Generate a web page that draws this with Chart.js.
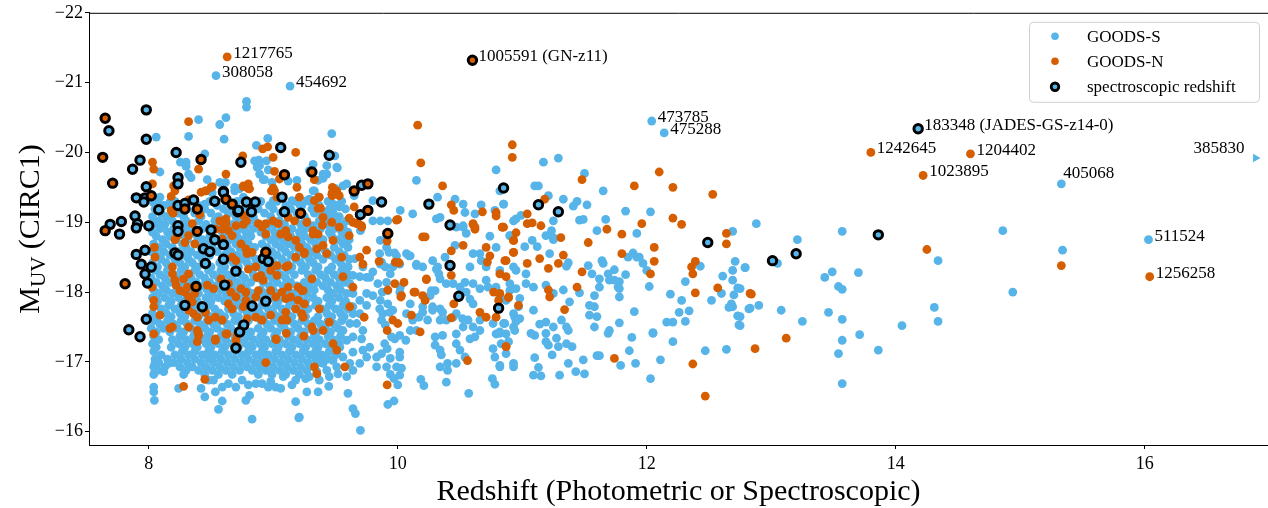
<!DOCTYPE html>
<html>
<head>
<meta charset="utf-8">
<script src="https://cdn.jsdelivr.net/npm/chart.js@4.4.1/dist/chart.umd.min.js"></script>
<style>
  html, body { margin: 0; padding: 0; background: #fff; }
  #wrap { width: 1268px; height: 508px; }
</style>
</head>
<body>
<div id="wrap"><canvas id="chart" width="1268" height="508"></canvas></div>
<script>
// axis setup
const xTicks = [8, 10, 12, 14, 16];
const yTicks = [-22, -21, -20, -19, -18, -17, -16];
const xRange = [7.52, 16.99];
const yRange = [-22, -15.81];
const xTitle = "Redshift (Photometric or Spectroscopic)";
const yTitle = ["M", "UV", " (CIRC1)"];
const legendItems = ["GOODS-S", "GOODS-N", "spectroscopic redshift"];

// GOODS-S, dense part of the cloud read row by row: [M_UV, [redshifts]]
const goodsSRows = [
  [-19.30, [8.07, 8.21, 8.33, 8.49, 8.62, 8.71, 8.90, 9.03, 9.17, 9.29, 9.44, 9.55]],
  [-19.24, [8.12, 8.26, 8.40, 8.55, 8.68, 8.83, 8.97, 9.10, 9.23, 9.37, 9.50]],
  [-19.19, [8.05, 8.18, 8.31, 8.45, 8.60, 8.76, 8.88, 9.00, 9.14, 9.31, 9.45, 9.58]],
  [-19.13, [8.10, 8.23, 8.37, 8.50, 8.64, 8.79, 8.93, 9.06, 9.19, 9.33, 9.48]],
  [-19.08, [8.03, 8.14, 8.28, 8.42, 8.56, 8.70, 8.84, 8.98, 9.12, 9.25, 9.39, 9.53]],
  [-19.02, [8.08, 8.19, 8.30, 8.40, 8.53, 8.62, 8.73, 8.85, 9.05, 9.18, 9.27, 9.37, 9.50, 9.59]],
  [-18.97, [8.04, 8.13, 8.25, 8.35, 8.46, 8.55, 8.67, 8.79, 8.89, 9.00, 9.09, 9.22, 9.43, 9.54]],
  [-18.91, [8.09, 8.20, 8.30, 8.43, 8.52, 8.62, 8.74, 8.84, 8.95, 9.07, 9.15, 9.26, 9.38, 9.49]],
  [-18.86, [8.03, 8.15, 8.24, 8.36, 8.59, 8.68, 8.78, 8.90, 9.01, 9.12, 9.21, 9.33, 9.45, 9.55]],
  [-18.80, [8.06, 8.17, 8.29, 8.39, 8.49, 8.61, 8.71, 8.82, 8.94, 9.04, 9.14, 9.25, 9.36, 9.47, 9.58]],
  [-18.75, [8.11, 8.22, 8.31, 8.43, 8.55, 8.65, 8.76, 8.98, 9.08, 9.19, 9.30, 9.40, 9.52, 9.61]],
  [-18.69, [8.04, 8.14, 8.27, 8.37, 8.47, 8.58, 8.70, 8.80, 8.91, 9.02, 9.12, 9.23, 9.34, 9.56]],
  [-18.64, [8.08, 8.19, 8.30, 8.42, 8.51, 8.63, 8.73, 8.85, 8.95, 9.06, 9.17, 9.27, 9.39, 9.49, 9.60]],
  [-18.58, [8.02, 8.12, 8.24, 8.34, 8.45, 8.55, 8.66, 8.77, 8.99, 9.10, 9.21, 9.31, 9.42, 9.53]],
  [-18.53, [8.06, 8.17, 8.28, 8.39, 8.49, 8.61, 8.71, 8.81, 8.93, 9.03, 9.14, 9.25, 9.35, 9.46, 9.57]],
  [-18.47, [8.10, 8.21, 8.32, 8.43, 8.64, 8.75, 8.86, 8.97, 9.07, 9.18, 9.29, 9.40, 9.50, 9.61]],
  [-18.42, [8.03, 8.14, 8.25, 8.35, 8.46, 8.57, 8.68, 8.79, 8.89, 9.00, 9.11, 9.22, 9.32, 9.54]],
  [-18.36, [8.07, 8.18, 8.29, 8.39, 8.50, 8.61, 8.72, 8.83, 8.93, 9.04, 9.15, 9.26, 9.36, 9.47, 9.58]],
  [-18.31, [8.05, 8.15, 8.26, 8.37, 8.48, 8.58, 8.69, 8.91, 9.01, 9.12, 9.23, 9.34, 9.44, 9.55]],
  [-18.25, [8.09, 8.20, 8.31, 8.41, 8.52, 8.63, 8.74, 8.84, 8.95, 9.06, 9.17, 9.28, 9.38, 9.49, 9.60]],
  [-18.20, [8.02, 8.13, 8.24, 8.34, 8.45, 8.56, 8.67, 8.77, 8.88, 8.99, 9.10, 9.31, 9.42, 9.53]],
  [-18.14, [8.06, 8.17, 8.28, 8.38, 8.49, 8.60, 8.71, 8.82, 8.92, 9.03, 9.14, 9.25, 9.35, 9.46, 9.57]],
  [-18.09, [8.11, 8.22, 8.33, 8.43, 8.54, 8.65, 8.76, 8.97, 9.08, 9.19, 9.29, 9.40, 9.51]],
  [-18.03, [8.04, 8.14, 8.25, 8.36, 8.47, 8.57, 8.68, 8.79, 8.90, 9.00, 9.11, 9.22, 9.33, 9.44, 9.54]],
  [-17.98, [8.08, 8.19, 8.30, 8.40, 8.51, 8.62, 8.73, 8.83, 8.94, 9.05, 9.16, 9.27, 9.48, 9.59]],
  [-17.92, [8.03, 8.13, 8.24, 8.35, 8.46, 8.56, 8.67, 8.78, 8.89, 8.99, 9.10, 9.21, 9.32, 9.43, 9.53]],
  [-17.87, [8.07, 8.18, 8.28, 8.39, 8.50, 8.61, 8.72, 8.82, 8.93, 9.04, 9.15, 9.26, 9.36, 9.47, 9.58]],
  [-17.81, [8.05, 8.16, 8.26, 8.37, 8.48, 8.70, 8.80, 8.91, 9.02, 9.13, 9.24, 9.34, 9.45, 9.56]],
  [-17.76, [8.10, 8.21, 8.31, 8.42, 8.53, 8.64, 8.75, 8.85, 8.96, 9.07, 9.18, 9.28, 9.39, 9.50, 9.60]],
  [-17.70, [8.03, 8.14, 8.25, 8.36, 8.46, 8.57, 8.68, 8.79, 8.89, 9.00, 9.11, 9.22, 9.43, 9.54]],
  [-17.65, [8.07, 8.18, 8.29, 8.40, 8.50, 8.61, 8.72, 8.83, 8.93, 9.04, 9.15, 9.26, 9.36, 9.47, 9.57]],
  [-17.59, [8.04, 8.15, 8.26, 8.37, 8.47, 8.58, 8.69, 8.80, 8.90, 9.01, 9.12, 9.23, 9.33, 9.44, 9.55]],
  [-17.54, [8.09, 8.20, 8.31, 8.41, 8.52, 8.63, 8.74, 8.95, 9.06, 9.17, 9.28, 9.38, 9.49]],
  [-17.48, [8.02, 8.12, 8.23, 8.34, 8.45, 8.55, 8.66, 8.77, 8.88, 8.98, 9.09, 9.20, 9.31, 9.42, 9.52]],
  [-17.43, [8.06, 8.17, 8.28, 8.38, 8.49, 8.60, 8.71, 8.82, 8.92, 9.03, 9.14, 9.25, 9.35, 9.46]],
  [-17.37, [8.04, 8.25, 8.36, 8.47, 8.58, 8.69, 8.79, 8.90, 9.01, 9.12, 9.22, 9.33, 9.44, 9.54]],
  [-17.32, [8.08, 8.19, 8.30, 8.41, 8.51, 8.62, 8.73, 8.84, 8.94, 9.05, 9.16, 9.27, 9.37, 9.48]],
  [-17.26, [8.03, 8.24, 8.35, 8.46, 8.56, 8.67, 8.78, 8.89, 8.99, 9.10, 9.21, 9.32, 9.42, 9.53]],
  [-17.21, [8.06, 8.18, 8.29, 8.39, 8.50, 8.61, 8.72, 8.83, 8.93, 9.04, 9.15, 9.26, 9.36, 9.47]],
  [-17.15, [8.04, 8.27, 8.37, 8.48, 8.59, 8.70, 8.80, 8.91, 9.02, 9.13, 9.24, 9.34, 9.45]],
  [-17.10, [8.10, 8.21, 8.32, 8.43, 8.53, 8.64, 8.75, 8.86, 8.96, 9.07, 9.18, 9.29, 9.39, 9.50]],
  [-17.04, [8.05, 8.15, 8.26, 8.37, 8.48, 8.58, 8.69, 8.80, 8.91, 9.01, 9.12, 9.23, 9.34, 9.44]],
  [-16.99, [8.08, 8.20, 8.31, 8.42, 8.52, 8.63, 8.74, 8.85, 8.95, 9.06, 9.17, 9.28, 9.38]],
  [-16.93, [8.04, 8.13, 8.25, 8.35, 8.46, 8.57, 8.68, 8.79, 8.89, 9.00, 9.11, 9.22, 9.33]],
  [-16.88, [8.07, 8.30, 8.40, 8.51, 8.62, 8.73, 8.83, 8.94, 9.05, 9.16, 9.27]],
  [-16.82, [8.04, 8.28, 8.45, 8.56, 8.67, 8.88, 8.99, 9.10, 9.21]]
];

// GOODS-S, scattered points: [redshift, M_UV]
const goodsS = [
  [9.135, -20.95], [8.54, -21.10], [8.785, -20.73], [8.785, -20.65], [8.62, -20.50], [8.57, -20.40], [8.40, -20.47],
  [8.605, -20.19], [8.32, -20.23], [8.06, -20.22], [8.956, -20.20], [8.865, -20.10], [9.47, -20.27], [8.45, -19.98],
  [8.884, -19.89], [8.87, -19.79], [8.92, -19.61], [8.99, -19.57], [8.09, -19.72], [8.254, -19.86], [8.30, -19.86],
  [8.30, -19.80], [8.32, -19.69], [8.34, -19.64], [8.47, -19.61], [8.616, -19.57], [8.69, -19.50], [8.51, -19.42],
  [8.57, -19.57], [8.60, -19.44], [8.69, -19.45], [8.73, -19.48], [8.89, -19.69], [8.93, -19.61], [9.12, -19.59],
  [9.19, -19.60], [9.27, -19.31], [9.36, -19.60], [9.40, -19.63], [9.43, -19.69], [9.51, -19.79], [9.33, -19.45],
  [9.56, -19.52], [9.59, -19.55], [9.32, -19.83], [8.85, -19.88], [8.89, -19.81], [8.945, -19.88], [8.96, -19.75],
  [8.035, -19.29], [8.09, -19.36], [8.17, -19.29], [8.45, -19.26], [8.76, -19.36], [8.89, -19.29], [9.0, -19.31],
  [9.15, -19.31], [9.21, -19.26], [9.48, -19.26], [9.53, -19.22], [9.43, -19.14], [9.65, -19.38], [9.80, -19.31],
  [9.92, -19.02], [10.02, -19.17], [10.12, -19.12], [10.31, -19.05], [10.32, -19.36], [10.15, -19.60],
  [9.44, -19.95], [9.495, -19.95], [9.43, -19.81], [9.515, -19.78], [9.29, -19.74], [9.40, -19.69], [9.40, -19.64],
  [9.50, -19.48], [9.32, -19.45], [9.29, -19.33], [9.33, -19.31], [9.48, -19.13], [9.45, -19.05], [9.32, -18.95],
  [10.79, -19.75], [10.82, -19.45], [10.85, -19.26], [10.34, -19.07], [10.46, -19.33], [10.525, -19.26], [10.54, -19.14],
  [10.62, -19.12], [10.67, -19.25], [10.78, -19.17], [10.93, -19.02], [10.47, -18.93], [10.525, -18.93],
  [9.56, -18.93], [9.60, -18.86], [9.70, -18.88], [9.80, -19.02], [9.86, -19.02], [9.86, -18.74], [9.91, -18.64],
  [9.99, -18.52], [10.07, -18.55], [10.10, -18.52], [10.15, -18.38], [10.20, -18.36], [10.28, -18.45], [10.32, -18.36],
  [9.86, -18.40], [9.90, -18.36], [9.94, -18.26], [9.96, -18.36], [9.775, -18.21], [9.80, -18.29], [9.84, -18.12],
  [9.91, -18.14], [10.02, -18.07], [10.26, -17.95], [10.30, -18.02], [10.28, -17.79], [9.60, -18.36], [9.59, -18.22],
  [9.695, -18.22], [9.75, -17.98], [9.80, -17.95], [9.86, -17.88], [9.64, -17.79], [9.695, -17.69], [9.96, -17.74],
  [10.07, -17.69], [10.12, -17.64], [10.20, -17.71],
  [9.855, -17.76], [9.88, -17.69], [9.936, -17.71], [9.87, -17.60], [9.90, -17.53], [9.95, -17.36], [9.976, -17.33],
  [10.016, -17.38], [9.895, -17.26], [9.915, -17.19], [9.87, -17.12], [10.016, -17.14], [9.94, -17.05], [9.91, -16.93],
  [9.83, -17.07], [9.83, -16.93], [9.99, -16.93], [10.016, -17.07], [10.03, -16.91], [10.065, -17.31], [10.10, -17.45],
  [10.12, -17.60], [10.17, -17.64], [10.15, -17.45], [10.24, -17.60], [10.28, -17.74], [10.34, -17.76], [10.36, -17.71],
  [10.34, -17.60], [10.39, -17.60], [10.445, -17.64], [10.47, -17.69], [10.52, -17.62], [10.525, -17.50], [10.565, -17.60],
  [10.47, -17.40], [10.36, -17.38], [10.30, -17.36], [10.30, -17.24], [10.34, -17.17], [10.35, -17.10], [10.40, -16.98],
  [10.34, -16.93], [10.40, -16.88], [10.47, -16.98], [10.54, -17.07], [10.50, -17.17], [10.47, -17.26], [10.58, -17.33],
  [10.62, -17.36], [10.66, -17.45], [10.605, -17.50], [10.66, -17.60], [9.94, -16.82], [10.016, -16.81], [9.97, -16.76],
  [10.0, -16.67], [9.92, -16.39], [9.97, -16.44], [10.21, -16.66], [10.185, -16.75], [10.39, -16.71], [10.57, -16.55],
  [10.78, -16.68], [10.76, -16.76], [10.82, -16.93], [10.78, -17.07], [10.765, -17.19], [10.83, -17.26], [10.87, -17.40],
  [10.93, -17.50], [10.94, -17.64], [10.82, -17.43], [10.86, -17.55], [10.98, -17.62], [10.93, -16.98], [10.765, -17.55],
  [10.79, -17.40],
  [9.855, -18.55], [9.93, -18.57], [9.976, -18.56], [10.09, -18.52], [10.15, -18.40], [9.87, -18.43], [10.016, -18.40],
  [9.875, -18.0], [9.92, -18.02], [10.016, -18.0], [9.92, -17.83], [10.31, -18.33], [10.33, -18.26], [10.34, -18.19],
  [10.39, -18.12], [10.38, -18.50], [10.46, -18.67], [10.525, -18.95], [10.55, -18.84], [10.74, -18.80], [10.90, -18.81],
  [10.79, -18.64], [10.605, -18.55], [10.66, -18.55], [10.445, -18.12], [10.50, -18.07], [10.54, -18.14], [10.605, -18.12],
  [10.55, -18.0], [10.58, -17.90], [10.605, -17.83], [10.66, -18.05], [10.71, -18.17], [10.725, -18.07], [10.79, -18.07],
  [10.82, -17.95], [10.87, -17.88], [10.90, -18.02], [10.95, -18.05], [10.97, -17.79], [10.71, -18.36], [10.82, -18.31],
  [10.93, -18.36], [10.67, -18.45], [10.58, -18.36], [10.27, -18.02], [10.20, -17.79], [10.10, -17.83], [9.75, -17.81],
  [9.695, -17.88], [9.67, -17.55], [9.72, -17.45], [9.64, -17.36], [9.71, -17.33], [9.72, -17.17], [9.775, -17.21],
  [9.75, -17.07], [9.695, -16.98], [9.64, -16.88], [9.59, -16.79], [9.52, -16.83], [9.45, -16.79], [9.37, -16.74],
  [9.29, -16.79], [9.27, -16.57], [9.36, -16.57], [9.446, -16.65], [9.60, -16.55], [9.64, -16.33], [9.66, -16.26],
  [9.70, -16.02], [9.21, -16.21], [9.615, -16.98], [9.56, -17.07], [9.64, -17.14], [9.535, -17.21], [9.59, -17.31],
  [9.56, -17.45], [9.615, -17.55], [9.64, -17.69], [9.59, -17.83], [9.64, -17.98], [9.615, -18.12], [9.64, -18.24],
  [9.60, -18.36], [9.655, -18.48], [9.72, -18.36], [9.75, -18.21], [9.51, -16.93], [9.43, -16.88], [9.35, -16.86],
  [9.48, -17.02], [9.40, -16.98], [9.51, -17.12],
  [11.17, -19.86], [11.29, -19.92], [11.50, -19.70], [11.10, -19.52], [11.13, -19.52], [10.85, -19.26], [11.21, -19.38],
  [11.33, -19.33], [11.44, -19.30], [11.41, -19.23], [11.52, -19.25], [11.65, -19.45], [11.83, -19.16], [12.03, -19.15],
  [11.67, -19.04], [11.60, -18.88], [11.92, -18.84], [11.46, -19.03], [11.49, -19.04], [11.25, -19.02], [11.235, -18.88],
  [11.25, -18.78], [10.95, -19.05], [10.99, -19.10], [10.90, -18.81], [11.08, -18.74], [11.02, -18.65], [11.12, -18.65],
  [11.19, -18.81], [11.25, -18.75], [11.22, -18.55], [11.37, -18.42], [11.355, -18.37], [10.95, -18.31], [10.90, -18.12],
  [11.03, -18.26], [11.03, -18.12], [11.09, -18.07], [11.19, -18.10], [11.25, -17.98], [11.33, -18.03], [11.38, -17.86],
  [11.46, -17.99], [11.53, -18.38], [11.56, -18.26], [11.62, -18.19], [11.64, -18.45], [11.65, -18.41], [11.70, -18.17],
  [11.74, -18.32], [11.77, -18.07], [11.78, -17.93], [11.83, -18.25], [11.89, -18.56], [11.92, -18.50], [11.97, -18.41],
  [12.0, -18.31], [12.02, -18.08], [11.78, -18.05], [11.58, -17.95], [11.58, -17.79], [11.54, -17.81], [11.60, -17.65],
  [11.54, -17.67], [11.58, -17.50], [11.69, -17.41], [11.70, -17.45], [11.78, -17.56], [11.90, -17.72], [11.88, -17.35],
  [12.05, -17.41], [11.86, -17.16], [11.91, -16.98], [11.79, -16.95], [11.60, -17.09], [11.62, -17.09], [11.49, -17.03],
  [11.50, -16.83], [11.43, -16.86], [11.37, -16.98], [11.30, -16.81], [11.355, -17.26], [11.40, -17.22], [11.275, -17.34],
  [11.29, -17.22], [11.24, -17.10], [11.19, -17.41], [11.19, -17.29], [11.21, -17.24], [11.14, -17.54], [11.19, -17.57],
  [11.25, -17.50], [11.315, -17.60], [11.355, -17.50], [11.37, -17.45], [11.09, -17.74], [11.07, -17.41], [11.10, -17.38],
  [11.10, -17.06], [11.13, -16.92], [11.09, -16.81], [11.15, -16.80], [10.93, -16.93], [10.87, -17.12], [10.89, -17.29],
  [10.94, -17.45], [10.95, -17.58], [10.93, -17.69], [10.98, -17.91], [10.85, -17.55], [10.82, -17.41], [10.82, -16.95],
  [11.94, -18.50], [11.85, -18.50], [11.69, -18.26], [11.74, -18.17], [11.62, -18.07], [11.78, -18.15],
  [12.19, -17.97], [12.28, -17.88], [12.26, -17.71], [12.34, -17.73], [12.31, -17.58], [12.21, -17.57], [12.16, -17.57],
  [12.21, -17.29], [12.11, -17.03], [12.03, -16.76], [12.05, -17.42], [12.31, -18.15], [12.43, -18.37], [12.47, -17.16],
  [12.52, -17.88], [12.60, -17.98], [12.61, -18.23], [12.69, -18.87], [12.69, -18.31], [12.71, -18.44], [12.79, -18.35],
  [12.69, -18.17], [12.73, -18.06], [12.70, -17.96], [12.68, -17.83], [12.69, -17.79], [12.66, -17.78], [12.73, -17.66],
  [12.74, -17.53], [12.82, -17.76], [12.64, -17.18],
  [12.88, -18.98], [12.79, -18.35], [13.05, -18.41], [13.21, -18.75], [13.57, -18.87], [14.34, -18.45], [14.86, -18.88],
  [12.75, -18.05], [12.83, -17.77], [12.90, -17.81], [13.08, -17.74], [12.75, -17.65], [12.75, -17.52], [13.25, -17.58],
  [13.43, -18.21], [13.49, -18.29], [13.70, -18.28], [13.54, -18.08], [13.57, -18.04], [13.46, -17.71], [13.57, -17.61],
  [13.57, -17.31], [13.54, -17.12], [13.71, -17.39], [13.86, -17.17], [14.05, -17.52], [14.31, -17.78], [14.34, -17.58],
  [13.57, -16.69], [14.94, -18.0], [15.34, -18.60],
  [12.04, -20.45], [12.14, -20.28], [15.33, -19.55], [16.03, -18.75],
  [8.04, -16.64], [8.04, -16.57], [8.045, -16.45], [8.24, -16.62], [8.42, -16.62], [8.45, -16.50], [8.535, -16.57],
  [8.59, -16.44], [8.56, -16.32], [8.78, -16.45], [8.81, -16.52], [8.83, -16.18], [8.96, -16.64], [9.06, -16.62],
  [9.15, -16.67], [9.18, -16.43], [9.205, -16.20], [8.05, -16.98], [8.05, -16.86], [8.12, -16.86], [8.16, -16.98],
  [8.48, -16.74], [8.52, -16.74], [8.59, -16.64], [8.64, -16.69], [8.70, -16.64], [8.75, -16.74], [8.80, -16.67],
  [8.86, -16.69], [8.91, -16.69], [8.98, -16.72], [9.02, -16.64], [9.08, -16.79], [9.18, -16.74], [9.26, -16.76]
];

// GOODS-N points: [redshift, M_UV]
const goodsN = [
  [8.63, -21.37], [8.32, -20.44], [8.915, -20.05], [8.955, -20.08], [9.18, -20.0], [8.999, -19.93], [8.755, -19.95],
  [9.01, -19.73], [8.03, -19.86], [8.04, -19.76], [8.40, -19.76], [8.62, -19.69], [8.76, -19.51], [8.80, -19.48],
  [8.455, -19.45], [8.51, -19.51], [8.985, -19.45], [9.00, -19.49], [8.03, -19.55], [10.16, -20.39], [10.185, -19.85],
  [10.36, -19.52], [10.92, -20.11], [10.92, -19.93],
  [8.20, -19.52], [8.21, -19.45], [8.18, -19.37], [8.32, -19.32], [8.42, -19.43], [8.50, -19.50], [8.46, -19.45],
  [8.76, -19.52], [8.80, -19.55], [8.81, -19.48], [9.01, -19.45], [9.03, -19.36], [9.19, -19.50], [9.21, -19.36],
  [9.33, -19.31], [9.37, -19.36], [9.51, -19.45], [9.53, -19.38], [9.05, -19.62], [9.475, -19.50], [9.475, -19.43],
  [9.475, -19.38], [9.65, -19.22], [9.61, -19.06], [9.99, -19.03], [10.20, -18.79], [9.98, -18.43], [9.92, -18.03],
  [10.03, -17.95], [10.14, -18.0], [10.22, -17.88], [9.56, -18.22], [9.64, -18.07], [9.695, -18.50], [9.75, -18.60],
  [9.615, -17.79], [10.23, -18.18],
  [8.18, -19.17], [8.195, -19.13], [8.41, -19.11], [8.57, -19.02], [8.62, -19.05], [8.76, -19.10], [8.785, -19.02],
  [8.88, -18.98], [8.999, -19.02], [9.04, -18.98], [9.12, -19.07], [9.17, -19.02], [9.40, -19.07], [9.47, -19.0],
  [9.32, -18.88], [9.36, -18.83], [9.53, -18.93], [9.48, -18.74],
  [9.33, -19.61], [9.47, -19.40], [9.365, -19.36], [9.36, -19.20], [9.38, -19.20], [9.395, -18.96], [9.27, -19.0],
  [9.64, -19.0], [9.67, -18.98], [9.71, -18.95], [10.0, -19.04], [10.43, -19.25], [10.45, -19.17], [10.68, -19.15],
  [10.79, -19.14], [10.79, -19.09], [10.605, -18.98], [10.62, -18.93], [10.85, -18.93], [9.213, -19.14],
  [8.045, -18.64], [8.05, -18.50], [8.027, -18.07], [8.04, -17.88], [8.04, -17.79], [8.09, -17.67], [8.04, -17.40],
  [8.17, -17.48], [8.21, -18.75], [8.23, -18.81], [8.29, -18.71], [8.37, -18.69], [8.32, -18.81], [8.35, -18.98],
  [8.19, -18.36], [8.19, -18.26], [8.21, -18.17], [8.22, -18.10], [8.28, -18.19], [8.32, -18.26], [8.25, -18.02],
  [8.29, -18.0], [8.32, -17.93], [8.37, -17.98], [8.35, -17.86], [8.31, -18.07], [8.535, -18.90], [8.59, -18.90],
  [8.62, -18.98], [8.64, -18.88], [8.70, -18.95], [8.76, -18.97], [8.59, -18.76], [8.67, -18.81], [8.74, -18.69],
  [8.67, -18.50], [8.70, -18.45], [8.78, -18.62], [8.79, -18.55], [8.83, -18.57], [8.80, -18.33], [8.86, -18.36],
  [8.90, -18.24], [8.87, -18.21], [8.92, -18.17], [8.98, -18.31], [9.03, -18.24], [9.03, -18.38], [9.10, -18.36],
  [9.12, -18.38], [9.18, -18.50], [9.21, -18.64], [9.25, -18.57], [9.12, -18.79], [9.18, -18.74], [9.06, -18.83],
  [9.10, -18.88], [8.91, -18.93], [8.94, -18.83], [8.94, -18.98], [8.47, -18.10], [8.52, -18.05], [8.58, -18.19],
  [8.64, -18.12], [8.66, -18.0], [8.70, -17.93], [8.74, -18.05], [8.78, -18.0], [8.64, -17.83], [8.67, -17.76],
  [8.78, -17.88], [8.76, -17.79], [8.86, -17.93], [8.88, -18.02], [8.98, -18.02], [9.02, -17.93], [9.07, -18.0],
  [9.12, -18.07], [9.10, -17.905], [9.14, -17.93], [9.20, -18.07], [9.23, -18.02], [8.32, -17.74], [8.36, -17.69],
  [8.39, -17.64], [8.455, -17.71], [8.48, -17.60], [8.535, -17.64], [8.59, -17.60], [8.39, -17.45], [8.40, -17.38],
  [8.535, -17.33], [8.63, -17.40], [8.32, -17.50], [8.19, -17.50], [8.79, -17.62], [8.86, -17.64], [8.91, -17.60],
  [8.98, -17.67], [9.07, -17.60], [9.11, -17.60], [9.02, -17.33], [9.18, -17.76], [9.23, -17.69], [9.20, -17.88],
  [9.10, -17.71], [8.75, -17.50], [8.71, -17.38],
  [8.39, -17.29], [8.40, -17.40], [8.535, -17.31], [8.62, -17.40], [8.70, -17.31], [8.71, -17.22], [9.025, -17.32],
  [9.105, -17.41], [9.245, -17.37], [8.28, -16.65], [8.45, -16.75], [8.94, -16.99],
  [9.61, -18.81], [9.68, -18.99], [9.71, -18.93], [9.915, -18.73], [10.22, -18.79], [10.605, -18.97], [10.62, -18.90],
  [10.84, -18.93], [10.93, -18.74], [10.71, -18.64], [10.43, -18.59], [10.525, -18.67], [10.43, -18.24], [10.45, -17.83],
  [10.43, -17.63], [10.72, -18.43], [10.74, -18.52], [10.86, -18.45], [10.82, -18.26], [10.77, -18.0], [10.81, -17.88],
  [10.89, -17.92], [10.66, -17.71], [10.71, -17.64], [10.79, -17.64], [10.87, -17.22], [10.56, -17.02], [10.93, -18.57],
  [9.976, -18.12], [10.05, -18.14], [10.13, -18.0], [10.025, -17.93], [10.20, -17.95], [10.23, -18.19], [9.85, -18.44],
  [10.01, -18.42], [9.73, -17.64], [9.96, -17.60], [10.0, -17.55], [9.915, -17.45], [10.11, -17.67], [10.18, -17.43],
  [9.915, -16.67], [9.33, -16.93], [9.35, -16.83], [9.575, -16.93], [9.48, -17.26], [9.51, -17.17], [9.72, -18.40],
  [9.55, -18.50], [9.43, -18.55], [9.40, -18.67], [9.32, -18.83], [9.35, -18.62], [9.25, -18.55], [9.31, -18.19],
  [9.24, -18.02], [9.25, -17.83], [9.24, -17.64], [9.37, -17.76], [9.45, -17.57], [9.31, -17.50], [9.32, -17.45],
  [9.40, -17.45],
  [11.48, -19.61], [12.10, -19.72], [11.18, -19.33], [11.90, -19.52], [12.21, -19.50], [12.53, -19.40], [12.21, -19.06],
  [12.28, -18.97], [11.96, -18.98], [11.68, -18.90], [11.80, -18.83], [11.31, -18.78], [11.15, -18.95], [11.04, -19.12],
  [11.04, -18.98], [11.08, -18.99], [10.84, -18.93], [10.95, -18.85], [10.93, -18.74], [11.14, -18.48], [11.33, -18.53],
  [11.29, -18.41], [11.21, -18.34], [11.04, -18.41], [10.93, -18.57], [10.87, -18.45], [10.87, -18.22], [11.21, -18.03],
  [11.22, -17.93], [11.44, -18.07], [11.48, -18.29], [11.53, -18.71], [11.80, -18.55], [12.03, -18.26], [12.06, -18.64],
  [12.06, -18.44], [12.37, -18.26], [12.36, -18.36], [12.39, -18.44], [12.39, -17.99], [12.37, -16.97], [12.47, -16.51],
  [12.57, -18.06], [12.64, -18.84], [12.64, -18.69], [12.83, -17.98], [11.34, -17.75], [10.97, -17.81], [10.89, -17.93],
  [10.82, -17.98], [10.87, -17.22], [11.74, -17.05],
  [14.25, -18.61], [12.84, -17.97], [12.87, -17.19], [13.12, -17.34],
  [13.80, -20.0], [14.60, -19.98], [14.22, -19.67], [15.33, -18.38], [16.04, -18.22]
];

// spectroscopic redshifts: [redshift, M_UV, field]
const spectro = [
  [7.98, -20.61, "S"], [7.68, -20.31, "S"], [7.98, -20.19, "S"], [8.22, -20.0, "S"], [8.74, -19.86, "S"],
  [9.06, -20.07, "S"], [9.45, -19.96, "S"], [7.93, -19.89, "S"], [7.87, -19.76, "S"], [8.235, -19.64, "S"],
  [8.235, -19.55, "S"], [7.98, -19.51, "S"], [7.90, -19.35, "S"], [7.97, -19.35, "S"], [7.96, -19.29, "S"],
  [8.08, -19.18, "S"], [8.60, -19.44, "S"], [8.53, -19.30, "S"], [8.715, -19.15, "S"], [8.785, -19.29, "S"],
  [8.855, -19.29, "S"], [8.825, -19.15, "S"], [9.07, -19.36, "S"], [9.09, -19.15, "S"], [8.235, -19.24, "S"],
  [8.29, -19.27, "S"], [8.36, -19.32, "S"], [8.60, -19.43, "S"], [8.72, -19.17, "S"],
  [7.89, -19.09, "S"], [7.78, -19.01, "S"], [7.69, -18.97, "S"], [7.91, -18.98, "S"], [8.0, -18.95, "S"],
  [9.71, -19.53, "S"], [9.70, -19.11, "S"], [9.87, -19.29, "S"], [10.25, -19.26, "S"], [7.765, -18.83, "S"],
  [7.90, -18.92, "S"], [8.235, -18.95, "S"], [8.235, -18.87, "S"], [8.50, -18.89, "S"], [8.53, -18.75, "S"],
  [8.60, -18.68, "S"], [8.44, -18.62, "S"], [8.49, -18.58, "S"], [8.21, -18.56, "S"], [8.235, -18.53, "S"],
  [8.455, -18.41, "S"], [8.60, -18.47, "S"], [8.70, -18.30, "S"], [8.61, -18.10, "S"], [8.92, -18.48, "S"],
  [8.96, -18.44, "S"], [7.90, -18.54, "S"], [7.97, -18.60, "S"], [7.94, -18.40, "S"], [8.02, -18.36, "S"],
  [7.97, -18.26, "S"], [7.99, -18.13, "S"], [7.98, -17.61, "S"], [7.84, -17.46, "S"], [7.93, -17.36, "S"],
  [8.94, -17.87, "S"], [8.83, -17.80, "S"], [8.43, -17.79, "S"], [8.29, -17.81, "S"], [8.763, -17.53, "S"],
  [8.73, -17.43, "S"], [8.70, -17.20, "S"], [10.42, -18.96, "S"], [10.42, -18.38, "S"], [10.49, -17.94, "S"],
  [10.81, -17.77, "S"], [10.85, -19.49, "S"], [11.13, -19.25, "S"], [11.29, -19.15, "S"], [12.49, -18.71, "S"],
  [13.01, -18.45, "S"], [13.20, -18.55, "S"], [13.86, -18.82, "S"], [14.18, -20.34, "S"],
  [7.65, -20.49, "N"], [7.63, -19.93, "N"], [7.71, -19.56, "N"], [7.65, -18.88, "N"], [8.42, -19.90, "N"],
  [9.09, -19.68, "N"], [8.02, -19.38, "N"], [8.62, -19.33, "N"], [8.67, -19.26, "N"], [8.29, -19.19, "N"],
  [8.39, -19.19, "N"], [9.22, -19.13, "N"], [9.31, -19.72, "N"], [9.65, -19.45, "N"], [9.76, -19.55, "N"],
  [9.76, -19.17, "N"], [9.92, -18.84, "N"], [8.39, -18.87, "N"], [8.38, -18.08, "N"], [7.81, -18.12, "N"],
  [8.94, -18.57, "N"], [10.60, -21.32, "N"]
];

// the one GOODS-S object off the top end of the redshift range, drawn as an arrow head
const arrowPoints = [[16.89, -19.92]];

// named objects: [id, redshift, M_UV, side]
const pointLabels = [
  ["1217765", 8.63, -21.37, "right"],
  ["308058", 8.54, -21.10, "right"],
  ["454692", 9.135, -20.95, "right"],
  ["1005591 (GN-z11)", 10.60, -21.32, "right"],
  ["473785", 12.04, -20.45, "right"],
  ["475288", 12.14, -20.28, "right"],
  ["183348 (JADES-GS-z14-0)", 14.18, -20.34, "right"],
  ["1242645", 13.80, -20.0, "right"],
  ["1204402", 14.60, -19.98, "right"],
  ["1023895", 14.22, -19.67, "right"],
  ["385830", 16.89, -19.92, "left"],
  ["405068", 15.33, -19.55, "above"],
  ["511524", 16.03, -18.75, "right"],
  ["1256258", 16.04, -18.22, "right"]
];

const blue = "#56B4E9";
const orange = "#D55E00";
const serif = "'Liberation Serif', 'Times New Roman', serif";

// build the point lists for chart.js
let sData = [];
goodsSRows.forEach(function(row) {
  row[1].forEach(function(z) { sData.push({x: z, y: row[0]}); });
});
goodsS.forEach(function(p) { sData.push({x: p[0], y: p[1]}); });
let nData = goodsN.map(function(p) { return {x: p[0], y: p[1]}; });
let specData = spectro.map(function(p) { return {x: p[0], y: p[1]}; });
let specFill = spectro.map(function(p) { return p[2] === "S" ? blue : orange; });
let arrowData = arrowPoints.map(function(p) { return {x: p[0], y: p[1]}; });

function minus(v) {
  return String(v).replace("-", "\u2212");
}

// top spine, axis titles, point ids and the legend box
const extras = {
  id: "extras",
  afterDatasetsDraw(chart) {
    const ctx = chart.ctx;
    const x = chart.scales.x;
    const y = chart.scales.y;
    ctx.save();
    ctx.font = "17px " + serif;
    ctx.fillStyle = "#000";
    ctx.textBaseline = "alphabetic";
    pointLabels.forEach(function(l) {
      const px = x.getPixelForValue(l[1]);
      const py = y.getPixelForValue(l[2]);
      if (l[3] === "left") {
        ctx.textAlign = "right";
        ctx.fillText(l[0], px - 11, py - 5);
      } else if (l[3] === "above") {
        ctx.textAlign = "left";
        ctx.fillText(l[0], px + 2, py - 6);
      } else {
        ctx.textAlign = "left";
        ctx.fillText(l[0], px + 6, py + 1);
      }
    });
    ctx.restore();
  },
  afterDraw(chart) {
    const ctx = chart.ctx;
    const a = chart.chartArea;
    ctx.save();
    // top spine
    ctx.strokeStyle = "#000";
    ctx.lineWidth = 1;
    ctx.beginPath();
    ctx.moveTo(a.left, a.top + 0.5);
    ctx.lineTo(a.right, a.top + 0.5);
    ctx.stroke();

    // x title
    ctx.fillStyle = "#000";
    ctx.font = "30px " + serif;
    ctx.textAlign = "center";
    ctx.textBaseline = "alphabetic";
    ctx.fillText(xTitle, (a.left + a.right) / 2, 500);

    // y title with subscript
    ctx.save();
    ctx.translate(39, (a.top + a.bottom) / 2);
    ctx.rotate(-Math.PI / 2);
    ctx.textAlign = "left";
    ctx.font = "30px " + serif;
    const w0 = ctx.measureText(yTitle[0]).width;
    const w2 = ctx.measureText(yTitle[2]).width;
    ctx.font = "21px " + serif;
    const w1 = ctx.measureText(yTitle[1]).width;
    let sx = -(w0 + w1 + w2) / 2;
    ctx.font = "30px " + serif;
    ctx.fillText(yTitle[0], sx, 0);
    ctx.font = "21px " + serif;
    ctx.fillText(yTitle[1], sx + w0, 6);
    ctx.font = "30px " + serif;
    ctx.fillText(yTitle[2], sx + w0 + w1, 0);
    ctx.restore();

    // legend
    const bw = 230, bh = 80;
    const bx = a.right - 9 - bw, by = a.top + 9;
    ctx.beginPath();
    ctx.roundRect(bx + 0.5, by + 0.5, bw, bh, 4);
    ctx.fillStyle = "rgba(255,255,255,0.85)";
    ctx.fill();
    ctx.strokeStyle = "#d0d0d0";
    ctx.lineWidth = 1;
    ctx.stroke();
    const rows = [by + 14.5, by + 39.5, by + 65];
    const mx = bx + 26;
    ctx.fillStyle = blue;
    ctx.beginPath(); ctx.arc(mx, rows[0], 3.8, 0, Math.PI * 2); ctx.fill();
    ctx.fillStyle = orange;
    ctx.beginPath(); ctx.arc(mx, rows[1], 3.8, 0, Math.PI * 2); ctx.fill();
    ctx.beginPath(); ctx.arc(mx, rows[2], 3.8, 0, Math.PI * 2);
    ctx.fillStyle = blue; ctx.fill();
    ctx.lineWidth = 2.8; ctx.strokeStyle = "#000"; ctx.stroke();
    ctx.fillStyle = "#000";
    ctx.font = "17px " + serif;
    ctx.textAlign = "left";
    ctx.textBaseline = "middle";
    legendItems.forEach(function(t, i) { ctx.fillText(t, bx + 58, rows[i] + 1); });
    ctx.restore();
  }
};

Chart.defaults.font.family = serif;
Chart.defaults.color = "#000";

new Chart(document.getElementById("chart"), {
  type: "scatter",
  data: {
    datasets: [
      {
        label: legendItems[2],
        data: specData,
        pointRadius: 4.2,
        pointBackgroundColor: specFill,
        pointBorderColor: "#000",
        pointBorderWidth: 3
      },
      {
        label: "385830",
        data: arrowData,
        pointStyle: "triangle",
        rotation: 90,
        pointRadius: 5,
        pointBackgroundColor: blue,
        pointBorderWidth: 0
      },
      {
        label: legendItems[1],
        data: nData,
        pointRadius: 4.4,
        pointBackgroundColor: orange,
        pointBorderWidth: 0
      },
      {
        label: legendItems[0],
        data: sData,
        pointRadius: 4.4,
        pointBackgroundColor: blue,
        pointBorderWidth: 0
      }
    ]
  },
  options: {
    responsive: false,
    animation: false,
    events: [],
    layout: { autoPadding: false, padding: { top: 12, right: 0, left: 0, bottom: 0 } },
    plugins: {
      legend: { display: false },
      tooltip: { enabled: false }
    },
    scales: {
      x: {
        type: "linear",
        min: xRange[0],
        max: xRange[1],
        afterBuildTicks: function(axis) { axis.ticks = xTicks.map(function(v) { return {value: v}; }); },
        afterFit: function(axis) { axis.height = 63; },
        ticks: { font: { size: 18 }, padding: 4, maxRotation: 0, callback: function(v) { return minus(v); } },
        grid: { drawOnChartArea: false, drawTicks: true, tickLength: 4, color: "#000" },
        border: { display: true, color: "#000", width: 1 }
      },
      y: {
        type: "linear",
        reverse: true,
        min: yRange[0],
        max: yRange[1],
        afterBuildTicks: function(axis) { axis.ticks = yTicks.map(function(v) { return {value: v}; }); },
        afterFit: function(axis) { axis.width = 89; },
        ticks: { font: { size: 18 }, padding: 2, callback: function(v) { return minus(v); } },
        grid: { drawOnChartArea: false, drawTicks: true, tickLength: 4, color: "#000" },
        border: { display: true, color: "#000", width: 1 }
      }
    }
  },
  plugins: [extras]
});
</script>
</body>
</html>
